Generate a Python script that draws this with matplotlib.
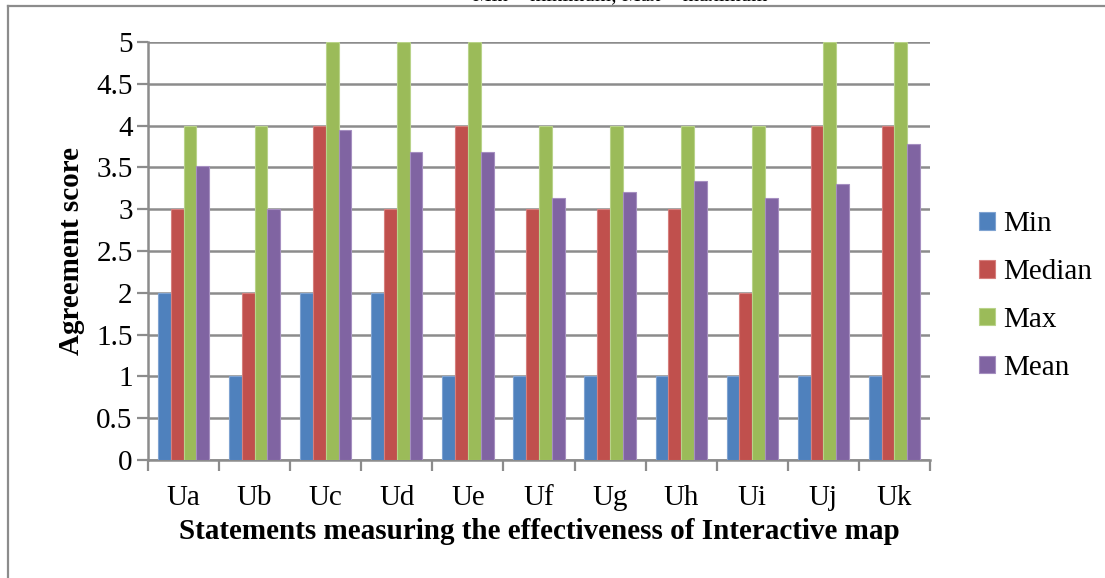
import matplotlib
matplotlib.use("Agg")
import matplotlib.pyplot as plt
import numpy as np
from matplotlib.lines import Line2D

statements = ["Ua", "Ub", "Uc", "Ud", "Ue", "Uf", "Ug", "Uh", "Ui", "Uj", "Uk"]
min_scores = [2, 1, 2, 2, 1, 1, 1, 1, 1, 1, 1]
median_scores = [3, 2, 4, 3, 4, 3, 3, 3, 2, 4, 4]
max_scores = [4, 4, 5, 5, 5, 4, 4, 4, 4, 5, 5]
mean_scores = [3.52, 3.0, 3.95, 3.69, 3.69, 3.13, 3.21, 3.34, 3.13, 3.30, 3.78]
series_names = ["Min", "Median", "Max", "Mean"]
y_ticks = [0, 0.5, 1, 1.5, 2, 2.5, 3, 3.5, 4, 4.5, 5]

colors = ["#4F81BD", "#C0504D", "#9BBB59", "#8064A2"]
edge_colors = ["#7FA3D1", "#D67F7D", "#B9D38A", "#A58FC0"]
serif = ["Liberation Serif", "DejaVu Serif"]
plt.rcParams["font.family"] = serif

W, H, DPI = 1105, 578, 100
fig = plt.figure(figsize=(W / DPI, H / DPI), dpi=DPI)

# outer chart frame, open to the right and bottom
frame_col = "#8c8c8c"
fig.add_artist(Line2D([8 / W, 8 / W], [0, 1 - 6 / H], transform=fig.transFigure,
                      color=frame_col, lw=1.6))
fig.add_artist(Line2D([8 / W, 1], [1 - 6 / H, 1 - 6 / H], transform=fig.transFigure,
                      color=frame_col, lw=1.6))

# note above the frame, mostly cut off by the top edge
fig.text(620 / W, 1 + 4 / H, "Min = minimum; Max = maximum", ha="center",
         va="center", fontsize=15, family=serif)

ax = fig.add_axes([148 / W, 1 - 460 / H, (930 - 148) / W, (460 - 42) / H])

x = np.arange(len(statements))
bw = 0.18
all_series = [min_scores, median_scores, max_scores, mean_scores]
for i, (vals, name) in enumerate(zip(all_series, series_names)):
    ax.bar(x + (i - 1.5) * bw, vals, width=bw, color=colors[i], label=name,
           edgecolor=edge_colors[i], linewidth=0.8, zorder=3)

ax.set_xlim(-0.5, len(statements) - 0.5)
ax.set_ylim(0, 5)
ax.set_yticks(y_ticks)
ax.set_yticklabels([f"{t:g}" for t in y_ticks])
ax.yaxis.grid(True, color="#8c8c8c", lw=1.8, zorder=0)
ax.set_axisbelow(True)

ax.set_xticks(x)
ax.set_xticklabels(statements)
ax.set_xticks(np.arange(-0.5, len(statements)), minor=True)
ax.tick_params(axis="x", which="major", length=0, pad=18, labelsize=21)
ax.tick_params(axis="x", which="minor", length=8, width=1.6, color=frame_col)
ax.tick_params(axis="y", length=8, width=1.6, color=frame_col, pad=3, labelsize=21)

for s in ["top", "right"]:
    ax.spines[s].set_visible(False)
for s in ["left", "bottom"]:
    ax.spines[s].set_color(frame_col)
    ax.spines[s].set_linewidth(1.8)

ax.set_xlabel("Statements measuring the effectiveness of Interactive map",
              fontsize=21, fontweight="bold", labelpad=5)
ax.set_ylabel("Agreement score", fontsize=21, fontweight="bold", labelpad=8)

ax.legend(loc="center left", bbox_to_anchor=((967 - 148) / 782, (460 - 296) / 418),
          frameon=False, fontsize=21, handlelength=0.55, handleheight=0.55,
          handletextpad=0.3, labelspacing=0.75, borderaxespad=0)

fig.savefig("out.png", dpi=DPI)
